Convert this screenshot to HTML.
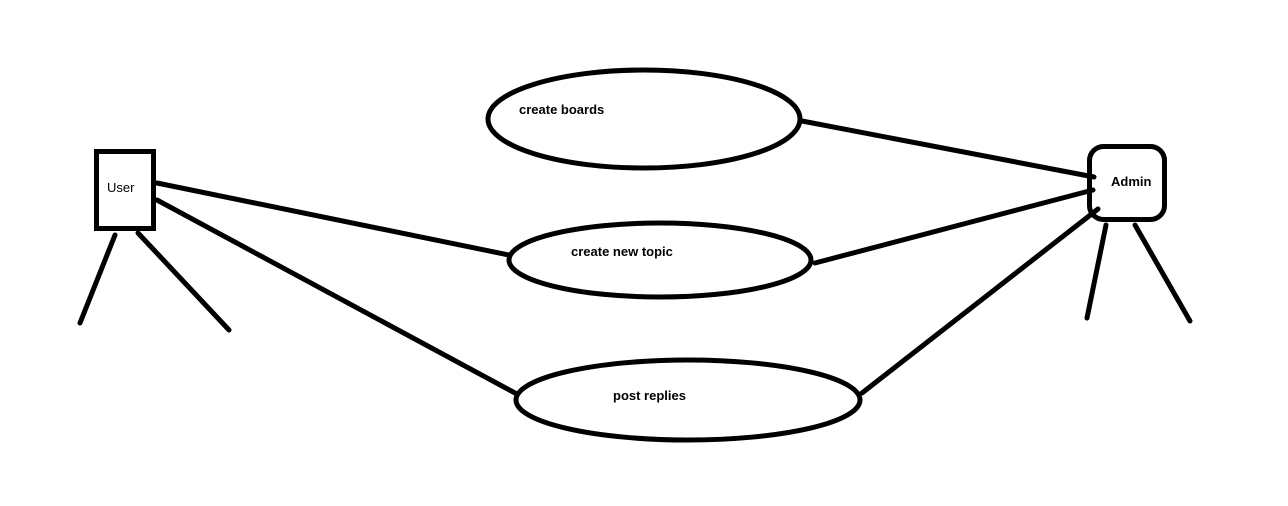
<!DOCTYPE html>
<html><head><style>body{margin:0;background:#fff}svg{display:block}</style></head><body>
<svg width="1288" height="506" xmlns="http://www.w3.org/2000/svg" font-family="Liberation Sans, sans-serif">
<rect width="1288" height="506" fill="#fff"/>
<g stroke="#000" stroke-width="5" fill="none" stroke-linecap="round">
<rect x="96.5" y="151.5" width="57" height="77"/>
<rect x="1089.5" y="146.5" width="75" height="73" rx="14"/>
<ellipse cx="644" cy="119" rx="156" ry="49"/>
<ellipse cx="660" cy="260" rx="151" ry="37"/>
<ellipse cx="688" cy="400" rx="172" ry="40"/>
<line x1="157" y1="183" x2="509" y2="255"/>
<line x1="157" y1="200" x2="515" y2="393"/>
<line x1="115" y1="235" x2="80" y2="323"/>
<line x1="138" y1="233" x2="229" y2="330"/>
<line x1="802" y1="121" x2="1094" y2="177"/>
<line x1="815" y1="263" x2="1093" y2="190"/>
<line x1="862" y1="393" x2="1098" y2="209"/>
<line x1="1106" y1="225" x2="1087" y2="318"/>
<line x1="1135" y1="225" x2="1190" y2="321"/>
</g>
<g font-size="13" fill="#000">
<text x="107" y="192">User</text>
<text x="1111" y="186" font-weight="bold">Admin</text>
<text x="519" y="114" font-weight="bold">create boards</text>
<text x="571" y="256" font-weight="bold">create new topic</text>
<text x="613" y="400" font-weight="bold">post replies</text>
</g>
</svg>
</body></html>
